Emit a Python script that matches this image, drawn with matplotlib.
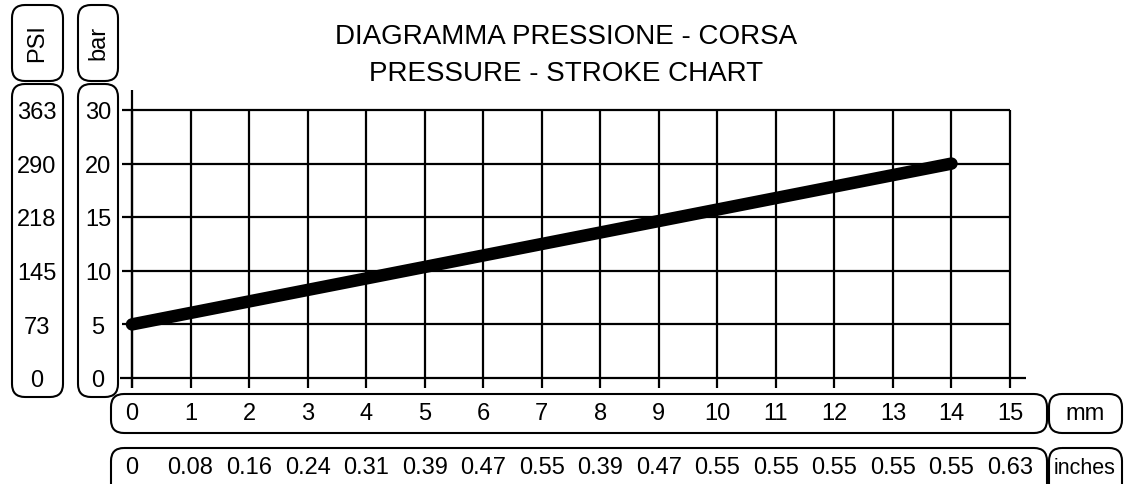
import numpy as np
import matplotlib.pyplot as plt
from matplotlib.patches import FancyBboxPatch
import matplotlib.transforms as mtransforms

plt.rcParams['font.family'] = ['Liberation Sans', 'DejaVu Sans']

# dati del diagramma
corsa_mm = [0, 14]                 # corsa (mm)
pressione_bar = [5, 20]            # pressione (bar)
mm_ticks = list(range(16))
inch_labels = ['0', '0.08', '0.16', '0.24', '0.31', '0.39', '0.47', '0.55',
               '0.39', '0.47', '0.55', '0.55', '0.55', '0.55', '0.55', '0.63']
bar_pos = [0, 5, 10, 15, 20, 25]   # posizioni delle righe
bar_labels = ['0', '5', '10', '15', '20', '30']
psi_labels = ['0', '73', '145', '218', '290', '363']

W, H = 1129, 484
fig = plt.figure(figsize=(W / 100, H / 100), dpi=100)

# pixel -> dati: x=0 a 132px, x=15 a 1010px; y=0 a 378px, y=25 a 110px
x0, x15 = 132, 1010
y0, y25 = 378, 110
sx = (x15 - x0) / 15
sy = (y0 - y25) / 25
L, R, T, B = 100, 1040, 80, 395
ax = fig.add_axes([L / W, 1 - B / H, (R - L) / W, (B - T) / H])
ax.set_xlim((L - x0) / sx, (R - x0) / sx)
ax.set_ylim((y0 - B) / sy, (y0 - T) / sy)
ax.axis('off')

lw = 1.6
ax.vlines(mm_ticks, -0.95, 25, color='black', lw=lw)
ax.vlines(0, -0.95, 26.9, color='black', lw=lw)
ax.hlines(bar_pos[1:], -0.17, 15, color='black', lw=lw)
ax.hlines(0, -0.2, 15.27, color='black', lw=lw)

ax.plot(corsa_mm, pressione_bar, color='black', lw=9, solid_capstyle='round')

# riquadri arrotondati (coordinate pixel)
ov = fig.add_axes([0, 0, 1, 1], zorder=-1)
ov.set_xlim(0, W)
ov.set_ylim(H, 0)
ov.axis('off')

def box(x1, y1, x2, y2):
    p = FancyBboxPatch((x1, y1), x2 - x1, y2 - y1,
                       boxstyle='round,pad=0,rounding_size=13',
                       fc='none', ec='black', lw=1.5)
    ov.add_patch(p)

box(12, 5, 63, 81)
box(12, 84, 63, 397)
box(78, 5, 118, 81)
box(78, 84, 118, 397)
box(111, 394, 1047, 433)
box(1049, 394, 1122, 433)
box(111, 448, 1047, 505)
box(1049, 448, 1122, 505)

fs = 17
ov.text(37, 43, 'PSI', rotation=90, ha='center', va='center', fontsize=fs)
ov.text(98, 43, 'bar', rotation=90, ha='center', va='center', fontsize=fs)
ov.text(1085, 414, 'mm', ha='center', va='center', fontsize=fs)
ov.text(1085, 468, 'inches', ha='center', va='center', fontsize=15.5)
ov.text(566, 37, 'DIAGRAMMA PRESSIONE - CORSA', ha='center', va='center', fontsize=20)
ov.text(566, 74, 'PRESSURE - STROKE CHART', ha='center', va='center', fontsize=20)

# etichette sugli assi
tr_x = mtransforms.blended_transform_factory(ax.transData, ov.transData)
for xv, lab in zip(mm_ticks, mm_ticks):
    ax.text(xv, 414, str(lab), transform=tr_x, ha='center', va='center', fontsize=fs)
for xv, lab in zip(mm_ticks, inch_labels):
    ax.text(xv, 468, lab, transform=tr_x, ha='center', va='center', fontsize=fs)

tr_y = mtransforms.blended_transform_factory(ov.transData, ax.transData)
for yv, lb, lp in zip(bar_pos, bar_labels, psi_labels):
    ax.text(98, yv - 0.3, lb, transform=tr_y, ha='center', va='center', fontsize=fs)
    ax.text(37, yv - 0.3, lp, transform=tr_y, ha='center', va='center', fontsize=fs)

fig.savefig('out.png', dpi=100)
